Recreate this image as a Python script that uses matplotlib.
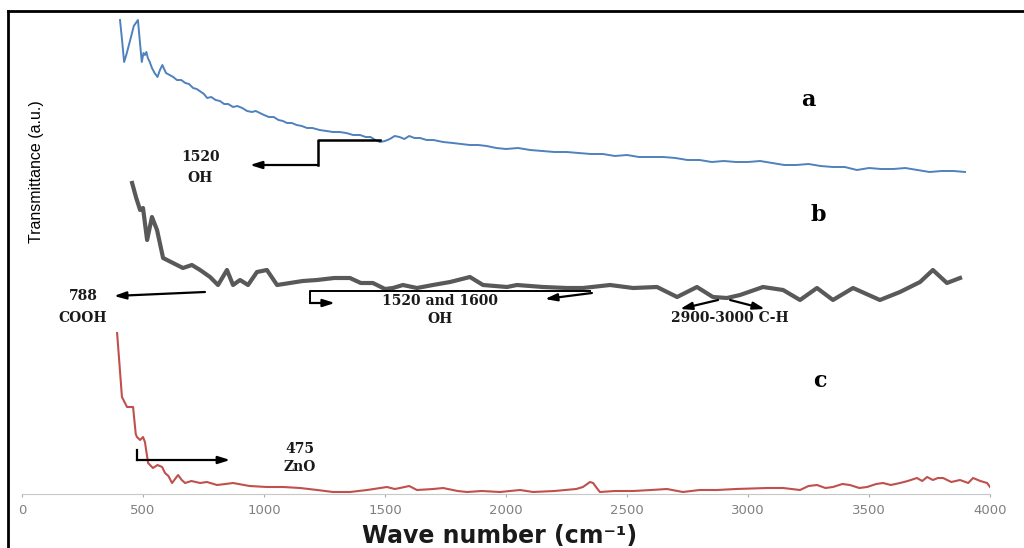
import matplotlib
matplotlib.use("Agg")
import matplotlib.pyplot as plt
from matplotlib.lines import Line2D

# spectrum a (blue)
a_wn = [405, 413, 422, 432, 445, 462, 479, 488, 495, 502, 508, 514, 520, 528, 537, 548,
        560, 570, 580, 595, 610, 625, 640, 658, 675, 690, 707, 722, 740, 752, 765, 782,
        800, 818, 835, 852, 872, 890, 910, 930, 950, 966, 983, 1000, 1020, 1040, 1060,
        1078, 1095, 1115, 1135, 1156, 1178, 1200, 1230, 1258, 1285, 1312, 1340, 1368,
        1397, 1420, 1440, 1460, 1479, 1500, 1520, 1540, 1560, 1580, 1600, 1622, 1645,
        1672, 1700, 1740, 1780, 1815, 1850, 1885, 1920, 1960, 2000, 2050, 2100, 2150,
        2200, 2250, 2300, 2350, 2400, 2450, 2500, 2550, 2600, 2650, 2700, 2750, 2800,
        2850, 2900, 2950, 3000, 3050, 3100, 3150, 3200, 3250, 3300, 3350, 3400, 3450,
        3500, 3550, 3600, 3650, 3700, 3750, 3800, 3850, 3897]
a_val = [474, 455, 432, 440, 452, 468, 474, 450, 432, 441, 439, 442, 436, 432, 426, 421,
         417, 424, 429, 421, 419, 417, 414, 414, 411, 410, 406, 405, 402, 400, 396, 397,
         394, 393, 390, 390, 387, 388, 386, 383, 382, 383, 381, 379, 377, 377, 374,
         373, 371, 371, 369, 368, 366, 366, 364, 363, 362, 362, 361, 359,
         359, 357, 357, 354, 352, 353, 355, 358, 357, 355, 358, 356, 356,
         354, 354, 352, 351, 350, 349, 349, 348, 346, 345, 346, 344, 343,
         342, 342, 341, 340, 340, 338, 339, 337, 337, 337, 336, 334, 334,
         332, 333, 332, 332, 333, 331, 329, 329, 330, 328, 327, 327, 324,
         326, 325, 325, 326, 324, 322, 323, 323, 322]

# spectrum b (grey)
b_wn = [455, 472, 488, 500, 517, 537, 558, 583, 624, 665, 702, 736, 777, 810, 847, 872,
        901, 934, 971, 1012, 1054, 1107, 1160, 1219, 1290, 1355, 1400, 1450, 1500, 1533,
        1574, 1632, 1698, 1769, 1851, 1905, 2004, 2045, 2100, 2153, 2252, 2318, 2430,
        2525, 2624, 2707, 2789, 2855, 2913, 2967, 3062, 3145, 3215, 3285, 3351, 3434,
        3545, 3628, 3711, 3764, 3822, 3876]
b_val = [311, 296, 284, 286, 254, 277, 264, 236, 231, 226, 229, 224, 217, 209, 224, 209,
         214, 209, 222, 224, 209, 211, 213, 214, 216, 216, 211, 211, 205, 206,
         209, 206, 209, 212, 217, 209, 207, 209, 208, 207, 206, 206, 209,
         206, 207, 197, 207, 197, 196, 199, 207, 204, 194, 206, 194, 206,
         194, 202, 212, 224, 211, 216]

# spectrum c (red)
c_wn = [393, 413, 434, 459, 470, 475, 488, 500, 508, 521, 541, 560, 579, 591, 605, 620,
        645, 660, 674, 700, 736, 764, 806, 840, 872, 940, 1012, 1079, 1149, 1220, 1285,
        1355, 1426, 1508, 1540, 1562, 1600, 1632, 1700, 1740, 1800, 1839, 1900, 1975,
        2058, 2112, 2200, 2290, 2318, 2347, 2360, 2375, 2388, 2450, 2525, 2600, 2665,
        2731, 2800, 2872, 2950, 3079, 3145, 3215, 3250, 3285, 3320, 3351, 3390, 3421,
        3460, 3492, 3530, 3558, 3590, 3628, 3660, 3698, 3720, 3740, 3764, 3785, 3806,
        3840, 3876, 3910, 3930, 3960, 3988, 4000]
c_val = [161, 97, 87, 87, 60, 57, 54, 57, 52, 31, 26, 29, 27, 21, 18, 11,
         19, 14, 11, 13, 11, 12, 9, 10, 11, 8, 7, 7, 6, 4, 2,
         2, 4, 7, 5, 6, 8, 4, 5, 6, 3, 2, 3, 2,
         4, 2, 3, 5, 7, 12, 11, 6, 2, 3, 3, 4, 5,
         2, 4, 4, 5, 6, 6, 4, 8, 9, 6, 7, 10, 9,
         6, 7, 10, 11, 9, 11, 13, 16, 13, 17, 14, 16, 16,
         12, 14, 11, 16, 13, 11, 7]

x_ticks = [0, 500, 1000, 1500, 2000, 2500, 3000, 3500, 4000]

fig = plt.figure(figsize=(10.24, 5.48), dpi=100)
ax = fig.add_axes([22 / 1024, 54 / 548, 968 / 1024, 484 / 548])

ax.plot(a_wn, a_val, color="#4F81BD", lw=1.4)
ax.plot(b_wn, b_val, color="#595959", lw=3.0, solid_joinstyle="round")
ax.plot(c_wn, c_val, color="#C0504D", lw=1.5)

ax.set_xlim(0, 4000)
ax.set_ylim(0, 484)
ax.set_xticks(x_ticks)
ax.set_xticklabels([str(t) for t in x_ticks], fontsize=9.5, color="#808080")
ax.tick_params(axis="x", length=2, color="#aaaaaa", pad=5)
ax.set_yticks([])
for side in ["top", "right", "left"]:
    ax.spines[side].set_visible(False)
ax.spines["bottom"].set_color("#c8c8c8")
ax.patch.set_alpha(0)

ann = dict(fontsize=10, fontweight="bold", family="DejaVu Serif", ha="center",
           va="center", color="#1a1a1a")
arr = dict(arrowstyle="-|>,head_length=0.7,head_width=0.22", color="black", lw=1.6,
           shrinkA=0, shrinkB=0)

# a : 1520 OH
ax.plot([1479, 1223, 1223], [354, 354, 329], color="black", lw=1.8)
ax.annotate("", xy=(942, 329), xytext=(1223, 329), arrowprops=arr)
ax.text(736, 337, "1520", **ann)
ax.text(736, 316, "OH", **ann)

# b : 788 COOH
ax.annotate("", xy=(380, 198), xytext=(756, 202), arrowprops=arr)
ax.text(252, 198, "788", **ann)
ax.text(252, 176, "COOH", **ann)

# b : 1520 and 1600 OH
ax.plot([2347, 1190, 1190], [203, 203, 191], color="black", lw=1.4)
ax.annotate("", xy=(1293, 191), xytext=(1190, 191), arrowprops=arr)
ax.annotate("", xy=(2161, 195), xytext=(2355, 201), arrowprops=arr)
ax.text(1727, 193, "1520 and 1600", **ann)
ax.text(1727, 175, "OH", **ann)

# b : 2900-3000 C-H
ax.annotate("", xy=(2719, 185), xytext=(2876, 194), arrowprops=arr)
ax.annotate("", xy=(3070, 185), xytext=(2926, 194), arrowprops=arr)
ax.text(2926, 176, "2900-3000 C-H", **ann)

# c : 475 ZnO
ax.plot([475, 475], [44, 34], color="black", lw=1.6)
ax.annotate("", xy=(860, 34), xytext=(475, 34), arrowprops=arr)
ax.text(1149, 45, "475", **ann)
ax.text(1149, 27, "ZnO", **ann)

lab = dict(fontsize=16, fontweight="bold", family="DejaVu Serif", ha="center",
           va="center", color="black")
ax.text(3248, 394, "a", **lab)
ax.text(3289, 279, "b", **lab)
ax.text(3298, 113, "c", **lab)

fig.text(500 / 1024, 1 - 536 / 548, "Wave number (cm\u207b\u00b9)", fontsize=17,
         fontweight="bold", ha="center", va="center", color="#1a1a1a")
fig.text(37 / 1024, 1 - 172 / 548, "Transmittance (a.u.)", fontsize=11.5, rotation=90,
         family="Liberation Sans", ha="center", va="center", color="black")

# outer frame
fig.add_artist(Line2D([8 / 1024, 8 / 1024], [0, 1 - 11 / 548], color="black", lw=2,
                      transform=fig.transFigure))
fig.add_artist(Line2D([8 / 1024, 1], [1 - 11 / 548, 1 - 11 / 548], color="black", lw=2,
                      transform=fig.transFigure))

fig.savefig("out.png", dpi=100)
plt.close(fig)
